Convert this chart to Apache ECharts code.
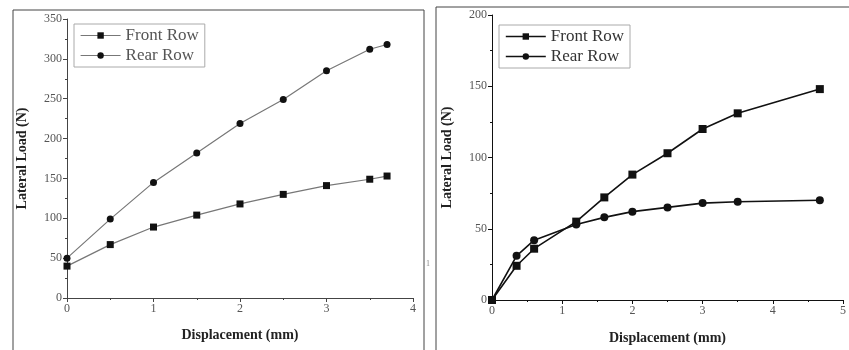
<!DOCTYPE html>
<html>
<head>
<meta charset="utf-8">
<script src="https://cdn.jsdelivr.net/npm/echarts@6/dist/echarts.min.js"></script>
<style>
  html, body { margin: 0; padding: 0; background: #fff; }
  #container { width: 849px; height: 350px; }
</style>
</head>
<body>
<div id="container"></div>
<script>
// left panel
var leftDisp = [0, 0.5, 1, 1.5, 2, 2.5, 3, 3.5, 3.7]
var leftFront = [40, 67, 89, 104, 118, 130, 141, 149, 153]
var leftRear = [50, 99, 145, 182, 219, 249, 285, 312, 318]
// right panel
var rightDisp = [0, 0.35, 0.6, 1.2, 1.6, 2, 2.5, 3, 3.5, 4.67]
var rightFront = [0, 24, 36, 55, 72, 88, 103, 120, 131, 148]
var rightRear = [0, 31, 42, 53, 58, 62, 65, 68, 69, 70]

var leftXTicks = [0, 1, 2, 3, 4]
var leftYTicks = [0, 50, 100, 150, 200, 250, 300, 350]
var rightXTicks = [0, 1, 2, 3, 4, 5]
var rightYTicks = [0, 50, 100, 150, 200]

function pairs(xs, ys) {
  return xs.map(function (x, i) { return [x, ys[i]] })
}

var serif = '"Liberation Serif", "DejaVu Serif", serif'

function axis(grid, ticks, name, gap, lineColor) {
  return {
    type: 'value',
    gridIndex: grid,
    min: ticks[0],
    max: ticks[ticks.length - 1],
    interval: ticks[1] - ticks[0],
    name: name,
    nameLocation: 'middle',
    nameGap: gap,
    nameTextStyle: { fontFamily: serif, fontWeight: 'bold', fontSize: 14, color: '#222' },
    splitLine: { show: false },
    axisLine: { show: true, onZero: false, lineStyle: { color: lineColor, width: 1 } },
    axisTick: { show: true, inside: false, length: 4, lineStyle: { color: lineColor } },
    minorTick: { show: true, splitNumber: 2, length: 2, lineStyle: { color: lineColor } },
    axisLabel: { fontFamily: serif, fontSize: 12, color: '#555', margin: 5 }
  }
}

function legend(left, top, color, lineColor, lineWidth) {
  return {
    left: left,
    top: top,
    orient: 'vertical',
    itemWidth: 40,
    itemHeight: 8,
    itemGap: 3,
    padding: [3, 6, 3, 6],
    borderColor: '#aaa',
    borderWidth: 1,
    textStyle: { fontFamily: serif, fontSize: 17, color: color },
    data: [
      { name: 'Front Row', lineStyle: { color: lineColor, width: lineWidth } },
      { name: 'Rear Row', lineStyle: { color: lineColor, width: lineWidth } }
    ]
  }
}

var chart = echarts.init(document.getElementById('container'))

chart.setOption({
  animation: false,
  grid: [
    { left: 67, top: 19, width: 346, height: 279 },
    { left: 492, top: 15, width: 360, height: 287 }
  ],
  xAxis: [
    axis(0, leftXTicks, 'Displacement (mm)', 30, '#444'),
    axis(1, rightXTicks, 'Displacement (mm)', 31, '#111')
  ],
  yAxis: [
    axis(0, leftYTicks, 'Lateral Load (N)', 38, '#444'),
    axis(1, rightYTicks, 'Lateral Load (N)', 38, '#111')
  ],
  legend: [
    legend(74, 24, '#555', '#777', 1.2),
    legend(499, 25, '#333', '#111', 1.6)
  ],
  graphic: [
    { type: 'rect', shape: { x: 13, y: 10, width: 411, height: 345 }, style: { fill: 'none', stroke: '#444', lineWidth: 1 } },
    { type: 'rect', shape: { x: 436, y: 7, width: 420, height: 345 }, style: { fill: 'none', stroke: '#444', lineWidth: 1 } },
    { type: 'text', left: 426, top: 260, style: { text: '1', fontSize: 8, fill: '#888', fontFamily: serif } }
  ],
  series: [
    {
      name: 'Front Row', type: 'line', xAxisIndex: 0, yAxisIndex: 0,
      data: pairs(leftDisp, leftFront),
      symbol: 'rect', symbolSize: 7,
      lineStyle: { color: '#777', width: 1.2 },
      itemStyle: { color: '#111' }
    },
    {
      name: 'Rear Row', type: 'line', xAxisIndex: 0, yAxisIndex: 0,
      data: pairs(leftDisp, leftRear),
      symbol: 'circle', symbolSize: 7,
      lineStyle: { color: '#777', width: 1.2 },
      itemStyle: { color: '#111' }
    },
    {
      name: 'Front Row', type: 'line', xAxisIndex: 1, yAxisIndex: 1,
      data: pairs(rightDisp, rightFront),
      symbol: 'rect', symbolSize: 8,
      lineStyle: { color: '#111', width: 1.6 },
      itemStyle: { color: '#111' }
    },
    {
      name: 'Rear Row', type: 'line', xAxisIndex: 1, yAxisIndex: 1,
      data: pairs(rightDisp, rightRear),
      symbol: 'circle', symbolSize: 8,
      lineStyle: { color: '#111', width: 1.6 },
      itemStyle: { color: '#111' }
    }
  ]
})
</script>
</body>
</html>
